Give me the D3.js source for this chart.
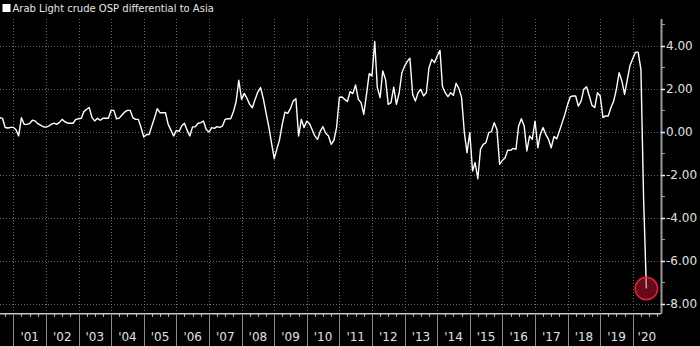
<!DOCTYPE html>
<html><head><meta charset="utf-8">
<script src="https://cdn.jsdelivr.net/npm/d3@7"></script>
<style>html,body{margin:0;padding:0;background:#000;overflow:hidden}</style>
</head><body>
<svg id="c" width="700" height="346"></svg>
<script>
const title = "Arab Light crude OSP differential to Asia";
const firstMonth = [2000, 7]; // Aug 2000, monthly series
const values = [
  0.65, 0.62, 0.19, 0.17, 0.2, 0.2, 0.08, -0.2, 0.65, 0.34,
  0.34, 0.37, 0.53, 0.5, 0.37, 0.3, 0.23, 0.21, 0.26, 0.34,
  0.4, 0.34, 0.43, 0.57, 0.46, 0.4, 0.39, 0.39, 0.57, 0.6,
  0.62, 0.93, 1.04, 1.12, 0.65, 0.5, 0.62, 0.53, 0.62, 0.62,
  0.62, 0.99, 0.99,
  0.6, 0.63, 0.77, 0.91, 0.99, 0.99, 0.65, 0.57, 0.57, 0.19,
  -0.25, -0.13, -0.13, 0.26, 0.65, 1.07, 0.88, 0.88, 0.88, 0.34,
  0.07, -0.2, 0.06, 0.01, 0.26, 0.39, 0.07, -0.2, 0.22, 0.23,
  0.39, 0.42, 0.49, 0.1, -0.02, 0.19, 0.15, 0.23, 0.2, 0.26,
  0.57, 0.6, 0.6, 0.91, 1.39, 2.39, 1.5, 1.78, 1.55, 1.27,
  1.11, 1.5, 1.84, 2.05, 1.53, 0.88, 0.23, -0.51, -1.26, -0.79,
  -0.39, 0.34, 0.91, 0.85, 1.07, 1.42, 1.53, -0.2, 0.57, 0.19,
  0.49, 0.37, 0.1, -0.2, -0.36, 0.02, 0.23, -0.08, -0.2, -0.59,
  -0.4,
  0.2, 1.6, 1.61, 1.5, 1.4, 1.86, 1.77, 2.17, 1.5, 1.35,
  0.8, 1.73, 2.7, 2.59, 4.19, 2.05, 1.58, 2.82, 2.43, 1.27,
  1.35, 2.07, 1.27, 1.81, 2.74, 3.05, 3.28, 3.41, 1.73, 1.42,
  1.81, 1.97, 1.66, 1.81, 2.97, 3.36, 3.21, 3.52, 3.78, 2.1,
  1.81, 1.63, 1.81, 1.69, 2.25, 2.0, 1.58, -0.05, -0.98, -0.05,
  -1.83, -1.44, -2.19, -0.82, -0.59, -0.51, -0.05, 0.0, 0.42, 0.1,
  -1.52, -1.34, -1.21, -0.86, -0.87, -0.78, -0.82, 0.26, 0.6, 0.26,
  -0.9, -0.2, -0.36, 0.49, -0.75, -0.13, 0.19, -0.13, -0.36,
  -0.75, -0.23, -0.33, 0.03, 0.42, 0.8, 1.27, 1.63, 1.66, 1.66,
  1.19, 1.42, 1.97, 2.09, 1.66, 1.22, 1.12, 1.81, 1.66, 0.65,
  0.73, 0.73, 1.12, 1.42, 1.97, 2.74, 2.35, 1.73, 2.43, 3.08,
  3.4, 3.7, 3.7, 2.9, -3.1, -7.3
];
const yMajorTicks = [4, 2, 0, -2, -4, -6, -8];
const yMinorTicks = [5, 3, 1, -1, -3, -5, -7];
const yearStarts = d3.range(2001, 2021);
const yearLabels = ["'01","'02","'03","'04","'05","'06","'07","'08","'09","'10",
                    "'11","'12","'13","'14","'15","'16","'17","'18","'19","'20"];

const data = values.map((v, i) => ({date: new Date(firstMonth[0], firstMonth[1] + i, 1), value: v}));

const svg = d3.select("#c");
svg.append("rect").attr("width", 700).attr("height", 346).attr("fill", "#000");

const L = 0, R = 661, T = 19, B = 313.7;
const x = d3.scaleTime().domain([new Date(2000, 7, 4), new Date(2020, 10, 12)]).range([L, R]);
const y = d3.scaleLinear().domain([-8.47, 5.24]).range([B, T]);

const grid = svg.append("g");
// horizontal dotted gridlines
grid.selectAll("line.h").data(yMajorTicks).join("line")
  .attr("x1", L).attr("x2", R)
  .attr("y1", d => Math.round(y(d)) + 0.5).attr("y2", d => Math.round(y(d)) + 0.5)
  .attr("stroke", "#6a6a6a").attr("stroke-width", 1).attr("stroke-dasharray", "1,2");
// vertical dotted gridlines at year boundaries
grid.selectAll("line.v").data(yearStarts).join("line")
  .attr("x1", d => Math.round(x(new Date(d, 0, 1))) + 0.5).attr("x2", d => Math.round(x(new Date(d, 0, 1))) + 0.5)
  .attr("y1", T).attr("y2", B)
  .attr("stroke", "#6a6a6a").attr("stroke-width", 1).attr("stroke-dasharray", "1,2");

// bottom axis line
svg.append("line").attr("x1", L).attr("x2", R).attr("y1", B).attr("y2", B)
  .attr("stroke", "#c8c8c8").attr("stroke-width", 1.5);
// quarter ticks
const quarters = d3.timeMonth.every(3).range(new Date(2000, 9, 1), new Date(2020, 10, 12));
svg.append("g").selectAll("line").data(quarters).join("line")
  .attr("x1", d => Math.round(x(d)) + 0.5).attr("x2", d => Math.round(x(d)) + 0.5)
  .attr("y1", B).attr("y2", B + 3)
  .attr("stroke", "#c8c8c8").attr("stroke-width", 1);
// year separators below axis
svg.append("g").selectAll("line").data(yearStarts).join("line")
  .attr("x1", d => Math.round(x(new Date(d, 0, 1))) + 0.5).attr("x2", d => Math.round(x(new Date(d, 0, 1))) + 0.5)
  .attr("y1", B).attr("y2", 346)
  .attr("stroke", "#8a8a8a").attr("stroke-width", 1);
// year labels
svg.append("g").selectAll("text").data(yearStarts).join("text")
  .attr("x", (d) => {
    const a = Math.max(x(new Date(d, 0, 1)), L);
    const b = Math.min(x(new Date(d + 1, 0, 1)), R);
    return (a + b) / 2;
  })
  .attr("y", 340.5)
  .attr("text-anchor", "middle")
  .attr("font-family", "DejaVu Sans")
  .attr("font-size", 12)
  .attr("fill", "#e0e0e0")
  .text((d, i) => yearLabels[i]);

// right axis
svg.append("line").attr("x1", R + 0.5).attr("x2", R + 0.5).attr("y1", T).attr("y2", B)
  .attr("stroke", "#9a9a9a").attr("stroke-width", 2);
svg.append("g").selectAll("line").data(yMinorTicks).join("line")
  .attr("x1", R).attr("x2", R + 4)
  .attr("y1", d => Math.round(y(d)) + 0.5).attr("y2", d => Math.round(y(d)) + 0.5)
  .attr("stroke", "#9a9a9a").attr("stroke-width", 1);
svg.append("g").selectAll("line").data(yMajorTicks).join("line")
  .attr("x1", R).attr("x2", R + 4)
  .attr("y1", d => Math.round(y(d)) + 0.5).attr("y2", d => Math.round(y(d)) + 0.5)
  .attr("stroke", "#e8e8e8").attr("stroke-width", 1.5);
svg.append("g").selectAll("text").data(yMajorTicks).join("text")
  .attr("x", R + 5).attr("y", d => y(d)).attr("dy", "0.36em")
  .attr("font-family", "DejaVu Sans").attr("font-size", 12).attr("fill", "#e0e0e0")
  .text(d => d3.format(".2f")(d).replace("−", "-"));

// line
const line = d3.line().x(d => x(d.date)).y(d => y(d.value));
svg.append("path").datum(data).attr("d", line)
  .attr("fill", "none").attr("stroke", "#ffffff").attr("stroke-width", 1.4)
  .attr("stroke-linejoin", "round");

// highlight circle on last point
const last = data[data.length - 1];
svg.append("circle").attr("cx", x(last.date)).attr("cy", y(last.value)).attr("r", 11.2)
  .attr("fill", "rgba(225,25,50,0.45)").attr("stroke", "#e8203c").attr("stroke-width", 1.5);

// legend / title
svg.append("rect").attr("x", 2.5).attr("y", 4).attr("width", 8).attr("height", 8).attr("fill", "#fff");
svg.append("text").attr("x", 12.5).attr("y", 11.8)
  .attr("font-family", "DejaVu Sans").attr("font-size", 10).attr("fill", "#e6e6e6")
  .text(title);
</script>
</body></html>
